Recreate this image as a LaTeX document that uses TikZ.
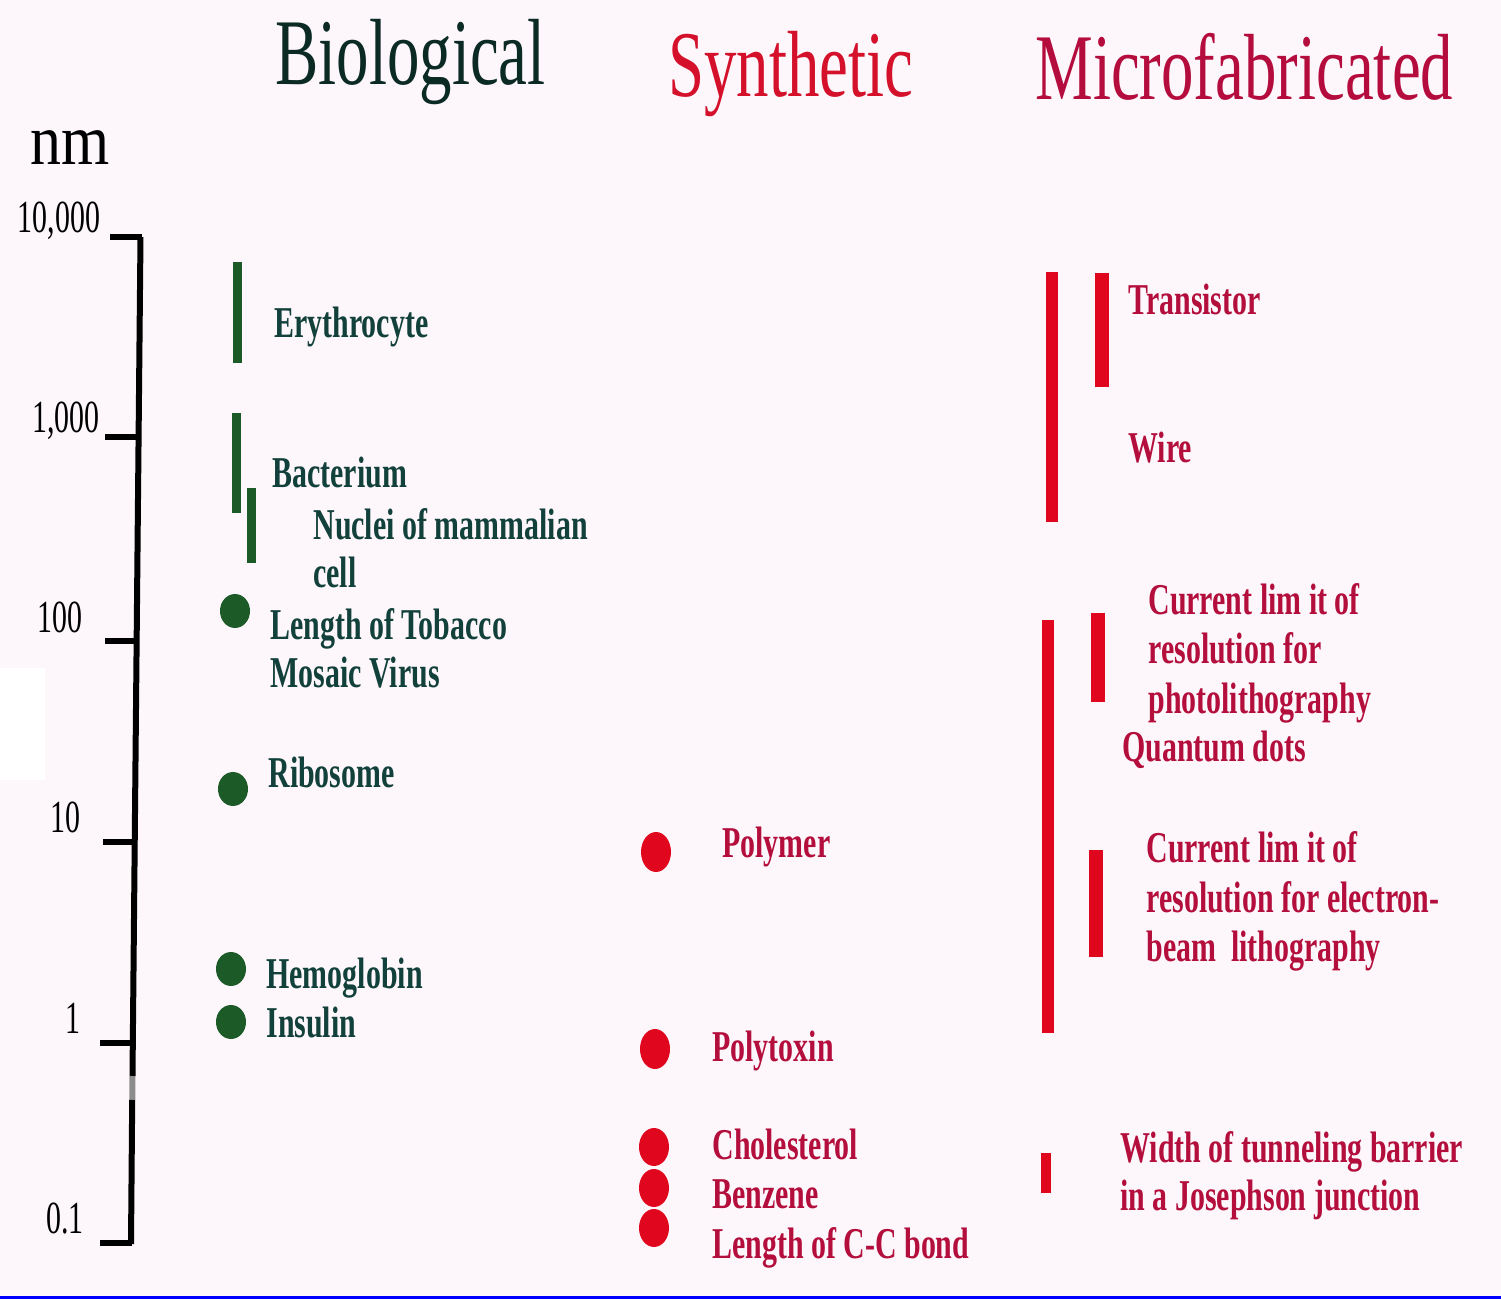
\documentclass[tikz,border=0pt]{standalone}
\usepackage{fontspec}
\setmainfont{Liberation Serif}
\newfontfamily\titlefont[FakeStretch=0.69]{Liberation Serif}
\newfontfamily\labfont[FakeStretch=0.68]{Liberation Serif}
\newfontfamily\tickfont[FakeStretch=0.65]{Liberation Serif}
\newfontfamily\nmfont[FakeStretch=0.86]{Liberation Serif}
\definecolor{bgc}{HTML}{FDF7FC}
\definecolor{gbar}{HTML}{1C5A28}
\definecolor{gtext}{HTML}{12403A}
\definecolor{rbar}{HTML}{E0061E}
\definecolor{rtext}{HTML}{B30E3C}
\definecolor{synth}{HTML}{D4102A}
\definecolor{micro}{HTML}{B50C3E}
\definecolor{biot}{HTML}{0B2A24}
\tikzset{
  glab/.style={anchor=base west, inner sep=0pt, text=gtext, font=\labfont\bfseries\fontsize{22}{24}\selectfont},
  rlab/.style={anchor=base west, inner sep=0pt, text=rtext, font=\labfont\bfseries\fontsize{22}{24}\selectfont},
  ticklab/.style={anchor=base, inner sep=0pt, text=black, font=\tickfont\fontsize{23}{25}\selectfont},
  titlelab/.style={anchor=base west, inner sep=0pt, font=\titlefont\fontsize{47}{50}\selectfont},
  tickline/.style={line width=3pt, black},
  gdot/.style={fill=gbar},
  rdot/.style={fill=rbar},
}
\begin{document}
\begin{tikzpicture}[x=0.5pt,y=-0.5pt]
\useasboundingbox (0,0) rectangle (1501,1299);
\fill[bgc] (0,0) rectangle (1501,1299);
\fill[white] (0,668) rectangle (45,780);
\fill[blue] (0,1296) rectangle (1501,1299);

% titles
\node[titlelab, text=biot] (tbio) at (275,85) {Biological};
\node[titlelab, text=synth] (tsyn) at (668,97) {Synthetic};
\node[titlelab, text=micro] (tmic) at (1035,100) {Microfabricated};
\node[anchor=base west, inner sep=0pt, font=\nmfont\fontsize{36}{38}\selectfont] (nm) at (30,165) {nm};

% axis
\draw[line width=3pt, black] (140.5,237) -- (132.5,1076);
\draw[line width=3pt, black!45] (132.5,1076) -- (132.3,1100);
\draw[line width=3pt, black] (132.2,1100) -- (131,1244);
\draw[tickline] (110,237) -- (142,237);
\draw[tickline] (105,437) -- (140,437);
\draw[tickline] (105,641) -- (138,641);
\draw[tickline] (103,842) -- (136,842);
\draw[tickline] (100,1043) -- (134,1043);
\draw[tickline] (100,1243) -- (132,1243);
\node[ticklab] (t4) at (59,233) {10,000};
\node[ticklab] (t3) at (66,433) {1,000};
\node[ticklab] (t2) at (60,633) {100};
\node[ticklab] (t1) at (65,833) {10};
\node[ticklab] (t0) at (73,1033) {1};
\node[ticklab] (tm) at (65,1233) {0.1};

% biological
\fill[gbar] (232.5,262) rectangle (241.5,363);
\fill[gbar] (231.5,413) rectangle (240.5,513);
\fill[gbar] (246.5,488) rectangle (255.5,563);
\fill[gdot] (235,611) ellipse (15 and 17);
\fill[gdot] (233,789) ellipse (15 and 17);
\fill[gdot] (231,969) ellipse (15 and 17);
\fill[gdot] (231,1022) ellipse (15 and 17);
\node[glab] (ery) at (274,338) {Erythrocyte};
\node[glab] (bac) at (272,488) {Bacterium};
\node[glab] (nuc) at (313,540) {Nuclei of mammalian};
\node[glab] (cel) at (313,588) {cell};
\node[glab] (tob) at (270,640) {Length of Tobacco};
\node[glab] (mos) at (270,688) {Mosaic Virus};
\node[glab] (rib) at (268,788) {Ribosome};
\node[glab] (hem) at (266,988) {Hemoglobin};
\node[glab] (ins) at (266,1037) {Insulin};

% synthetic
\fill[rdot] (656,852) ellipse (15 and 20);
\fill[rdot] (655,1049) ellipse (15 and 20);
\fill[rdot] (654,1147) ellipse (15 and 19);
\fill[rdot] (654,1188) ellipse (15 and 19);
\fill[rdot] (654,1228) ellipse (15 and 19);
\node[rlab] (pol) at (722,857) {Polymer};
\node[rlab] (ptx) at (712,1061) {Polytoxin};
\node[rlab] (cho) at (712,1159) {Cholesterol};
\node[rlab] (ben) at (712,1208) {Benzene};
\node[rlab] (ccb) at (712,1258) {Length of C-C bond};

% microfabricated
\fill[rbar] (1046,272) rectangle (1058,522);
\fill[rbar] (1095,273) rectangle (1109,387);
\fill[rbar] (1042,620) rectangle (1054,1033);
\fill[rbar] (1091,613) rectangle (1105,702);
\fill[rbar] (1089,850) rectangle (1103,957);
\fill[rbar] (1041,1153) rectangle (1051,1193);
\node[rlab] (tra) at (1128,315) {Transistor};
\node[rlab] (wir) at (1128,463) {Wire};
\node[rlab] (pl1) at (1148,615) {Current lim it of};
\node[rlab] (pl2) at (1148,664) {resolution for};
\node[rlab] (pl3) at (1148,713) {photolithography};
\node[rlab] (qd) at (1122,762) {Quantum dots};
\node[rlab] (eb1) at (1146,863) {Current lim it of};
\node[rlab] (eb2) at (1146,912) {resolution for electron-};
\node[rlab] (eb3) at (1146,961) {beam\ \ lithography};
\node[rlab] (jj1) at (1120,1162) {Width of tunneling barrier};
\node[rlab] (jj2) at (1120,1210) {in a Josephson junction};
\end{tikzpicture}
\end{document}
